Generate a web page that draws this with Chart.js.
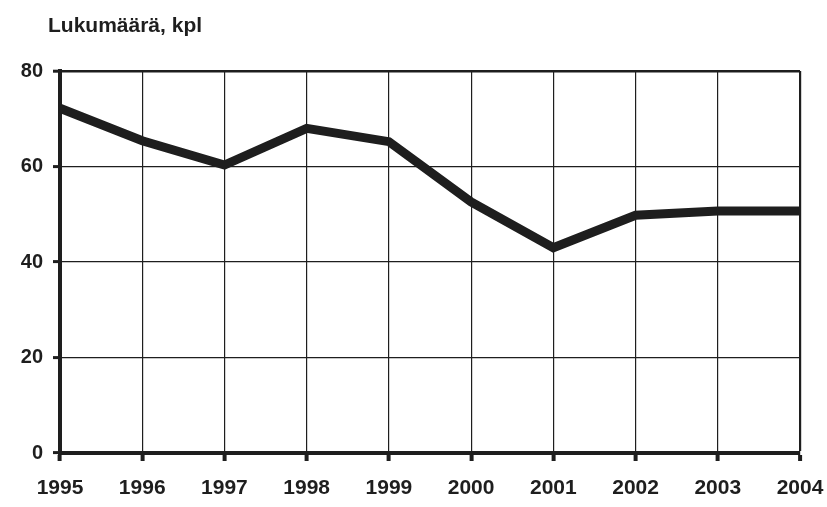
<!DOCTYPE html>
<html>
<head>
<meta charset="utf-8">
<script src="https://cdn.jsdelivr.net/npm/chart.js@4"></script>
<style>
  body { margin: 0; background: #fff; }
  #chart { display: block; }
</style>
</head>
<body>
<canvas id="chart" width="827" height="507"></canvas>
<script>
const years = ['1995', '1996', '1997', '1998', '1999', '2000', '2001', '2002', '2003', '2004'];
const counts = [72.2, 65.4, 60.3, 68, 65.2, 52.6, 43, 49.8, 50.7, 50.7];
const yTicks = [0, 20, 40, 60, 80];
const titleText = 'Lukumäärä, kpl';

const ink = '#1e1e1e';
const fontFamily = "'Liberation Sans', Arial, sans-serif";

// title drawn above the plot, left aligned like the original
const titlePlugin = {
  id: 'unitTitle',
  afterDraw(chart) {
    const ctx = chart.ctx;
    ctx.save();
    ctx.fillStyle = ink;
    ctx.font = 'bold 21px ' + fontFamily;
    ctx.textAlign = 'left';
    ctx.textBaseline = 'alphabetic';
    ctx.fillText(titleText, 48, 32);
    ctx.restore();
  }
};

const ctx = document.getElementById('chart').getContext('2d');
new Chart(ctx, {
  type: 'line',
  data: {
    labels: years,
    datasets: [{
      data: counts,
      borderColor: ink,
      borderWidth: 9,
      borderJoinStyle: 'miter',
      tension: 0,
      pointRadius: 0,
      fill: false
    }]
  },
  options: {
    responsive: false,
    animation: false,
    layout: { padding: { top: 71, right: 27, bottom: 0, left: 0 } },
    plugins: {
      legend: { display: false },
      tooltip: { enabled: false }
    },
    scales: {
      x: {
        offset: false,
        border: { display: true, color: ink, width: 4 },
        grid: {
          color: ink,
          lineWidth: c => c.index === years.length - 1 ? 2.2 : 1.2,
          tickLength: 8,
          tickColor: ink,
          tickWidth: 4
        },
        ticks: {
          color: ink,
          padding: 15,
          maxRotation: 0,
          autoSkip: false,
          font: { family: fontFamily, size: 21, weight: 'bold' }
        },
        afterFit(scale) {
          scale.height = 54;
          // let the layout padding alone decide the plot edges
          scale.paddingLeft = 0;
          scale.paddingRight = 0;
        }
      },
      y: {
        min: 0,
        max: 80,
        afterBuildTicks(scale) { scale.ticks = yTicks.map(v => ({ value: v })); },
        border: { display: true, color: ink, width: 4 },
        grid: {
          color: ink,
          lineWidth: c => c.tick && c.tick.value === 80 ? 2.4 : 1.2,
          tickLength: 7,
          tickColor: ink,
          tickWidth: 3
        },
        ticks: {
          color: ink,
          padding: 10,
          font: { family: fontFamily, size: 20, weight: 'bold' }
        },
        afterFit(scale) {
          scale.width = 60;
          scale.paddingTop = 0;
          scale.paddingBottom = 0;
        }
      }
    }
  },
  plugins: [titlePlugin]
});
</script>
</body>
</html>
